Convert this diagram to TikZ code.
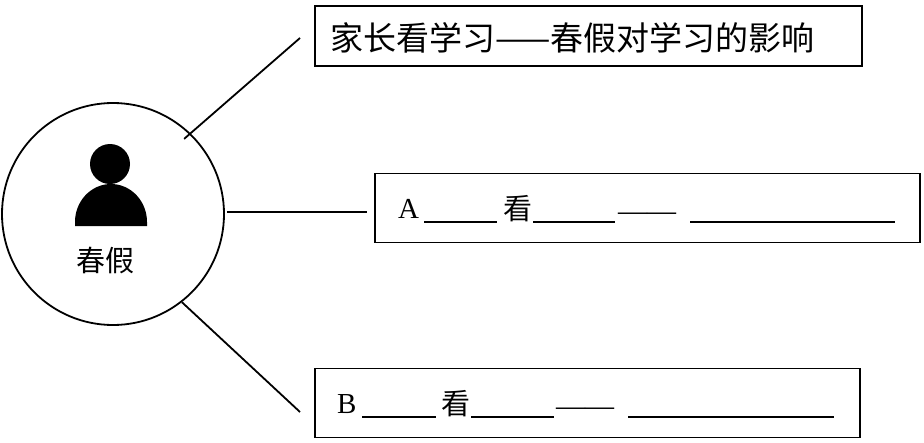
\documentclass[tikz,border=0pt]{standalone}
\usepackage{fontspec}
\setmainfont{Liberation Serif}
\newfontfamily\cjk{Noto Sans CJK SC}
\begin{document}
\begin{tikzpicture}[x=1pt,y=-1pt,
  box/.style={draw,line width=1.8pt,inner sep=0pt},
  conn/.style={line width=1.8pt},
  txt/.style={font=\fontsize{29}{32}\selectfont,anchor=west,inner sep=0pt},
  ul/.style={line width=2.2pt}]
\useasboundingbox (0,0) rectangle (924,442);
\node[draw,circle,line width=1.8pt,minimum size=222pt] (c) at (113,214) {};
\fill (110,164) circle (20);
\fill (75,226) -- (75,222) arc[start angle=180,end angle=360,x radius=36,y radius=38] -- (147,226) -- cycle;
\node[txt,anchor=center] (cl) at (105,261) {\cjk 春假};
\node[box,minimum width=547pt,minimum height=60pt] (b1) at (588.5,36) {};
\node[box,minimum width=545pt,minimum height=69pt] (b2) at (647.5,208) {};
\node[box,minimum width=545pt,minimum height=69pt] (b3) at (587.5,403) {};
\node[txt,font=\fontsize{33}{36}\selectfont] (t1) at (330,38) {\cjk 家长看学习——春假对学习的影响};
\node[txt] (t2a) at (398,209) {A};
\node[txt] (t2b) at (503,209) {\cjk 看};
\node[txt] (t2c) at (618,217) {——};
\node[txt] (t3a) at (337,404) {B};
\node[txt] (t3b) at (441,404) {\cjk 看};
\node[txt] (t3c) at (556,412) {——};
\draw[ul] (424,222) -- (497,222) (533,222) -- (615,222) (690,222) -- (895,222);
\draw[ul] (362,417) -- (436,417) (471,417) -- (554,417) (628,417) -- (834,417);
\coordinate (e1) at (300,38);
\coordinate (e2) at (367,212);
\coordinate (e3) at (300,412);
\draw[conn] (c.45) ++(-8,4) -- (e1);
\draw[conn] (c.east) ++(2,-2) -- (e2);
\draw[conn] (c.-52) -- (e3);
\end{tikzpicture}
\end{document}
